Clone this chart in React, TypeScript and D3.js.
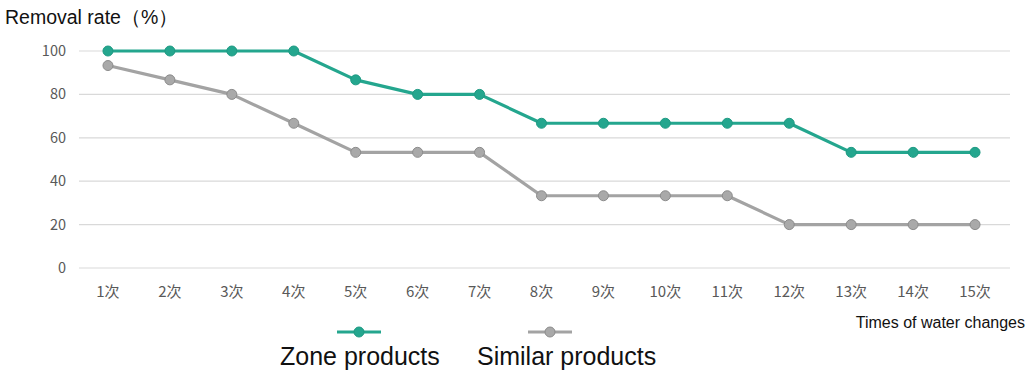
import React from "react";
import * as d3 from "d3";

const categories = ["1次","2次","3次","4次","5次","6次","7次","8次","9次","10次","11次","12次","13次","14次","15次"];
const zoneValues = [100,100,100,100,86.7,80,80,66.7,66.7,66.7,66.7,66.7,53.3,53.3,53.3];
const similarValues = [93.3,86.7,80,66.7,53.3,53.3,53.3,33.3,33.3,33.3,33.3,20,20,20,20];
const yTicks = [0,20,40,60,80,100];
const seriesNames = ["Zone products","Similar products"];

const W = 1028, H = 379;
const left = 79, right = 1010, top = 51, bottom = 268;
const teal = "#24a68e";
const gray = "#a3a3a3";

export default function App() {
  const x = d3.scaleBand<string>().domain(categories).range([left - 2, right - 4]);
  const y = d3.scaleLinear().domain([0, 100]).range([bottom, top]);
  const cx = (c: string) => (x(c) as number) + x.bandwidth() / 2;
  const line = d3.line<number>().x((_, i) => cx(categories[i])).y(d => y(d));
  const series = [
    { name: seriesNames[0], values: zoneValues, color: teal, fill: teal, stroke: "#1e9a83" },
    { name: seriesNames[1], values: similarValues, color: gray, fill: "#a9a9a9", stroke: "#8c8c8c" },
  ];
  return (
    <svg width={W} height={H} style={{ position: "absolute", left: 0, top: 0, background: "#fff" }}>
      <text x={5} y={24} fontFamily="Liberation Sans, Arial, sans-serif" fontSize={19.5} fill="#111">Removal rate（%）</text>
      {yTicks.map(t => (
        <g key={t}>
          <line x1={left} x2={right} y1={y(t)} y2={y(t)} stroke="#d9d9d9" strokeWidth={1.2} />
          <text x={66} y={y(t)} dy="0.35em" textAnchor="end" fontFamily="Noto Sans CJK SC, sans-serif" fontSize={14.5} fill="#595959">{t}</text>
        </g>
      ))}
      {categories.map(c => (
        <text key={c} x={cx(c)} y={297} textAnchor="middle" fontFamily="Noto Sans CJK SC, sans-serif" fontSize={15} fill="#595959">{c}</text>
      ))}
      {series.map(s => (
        <g key={s.name}>
          <path d={line(s.values) || ""} fill="none" stroke={s.color} strokeWidth={3.2} strokeLinejoin="round" />
          {s.values.map((v, i) => (
            <circle key={i} cx={cx(categories[i])} cy={y(v)} r={5} fill={s.fill} stroke={s.stroke} strokeWidth={1} />
          ))}
        </g>
      ))}
      <text x={1025} y={328} textAnchor="end" fontFamily="Liberation Sans, Arial, sans-serif" fontSize={16} fill="#111">Times of water changes</text>
      {series.map((s, i) => {
        const lx = i === 0 ? 337 : 528;
        const tx = i === 0 ? 280 : 477;
        return (
          <g key={"lg" + s.name}>
            <line x1={lx} x2={lx + 44} y1={332} y2={332} stroke={s.color} strokeWidth={3.2} />
            <circle cx={lx + 22} cy={332} r={5} fill={s.fill} stroke={s.stroke} strokeWidth={1} />
            <text x={tx} y={365} fontFamily="Liberation Sans, Arial, sans-serif" fontSize={25} fill="#111">{s.name}</text>
          </g>
        );
      })}
    </svg>
  );
}
